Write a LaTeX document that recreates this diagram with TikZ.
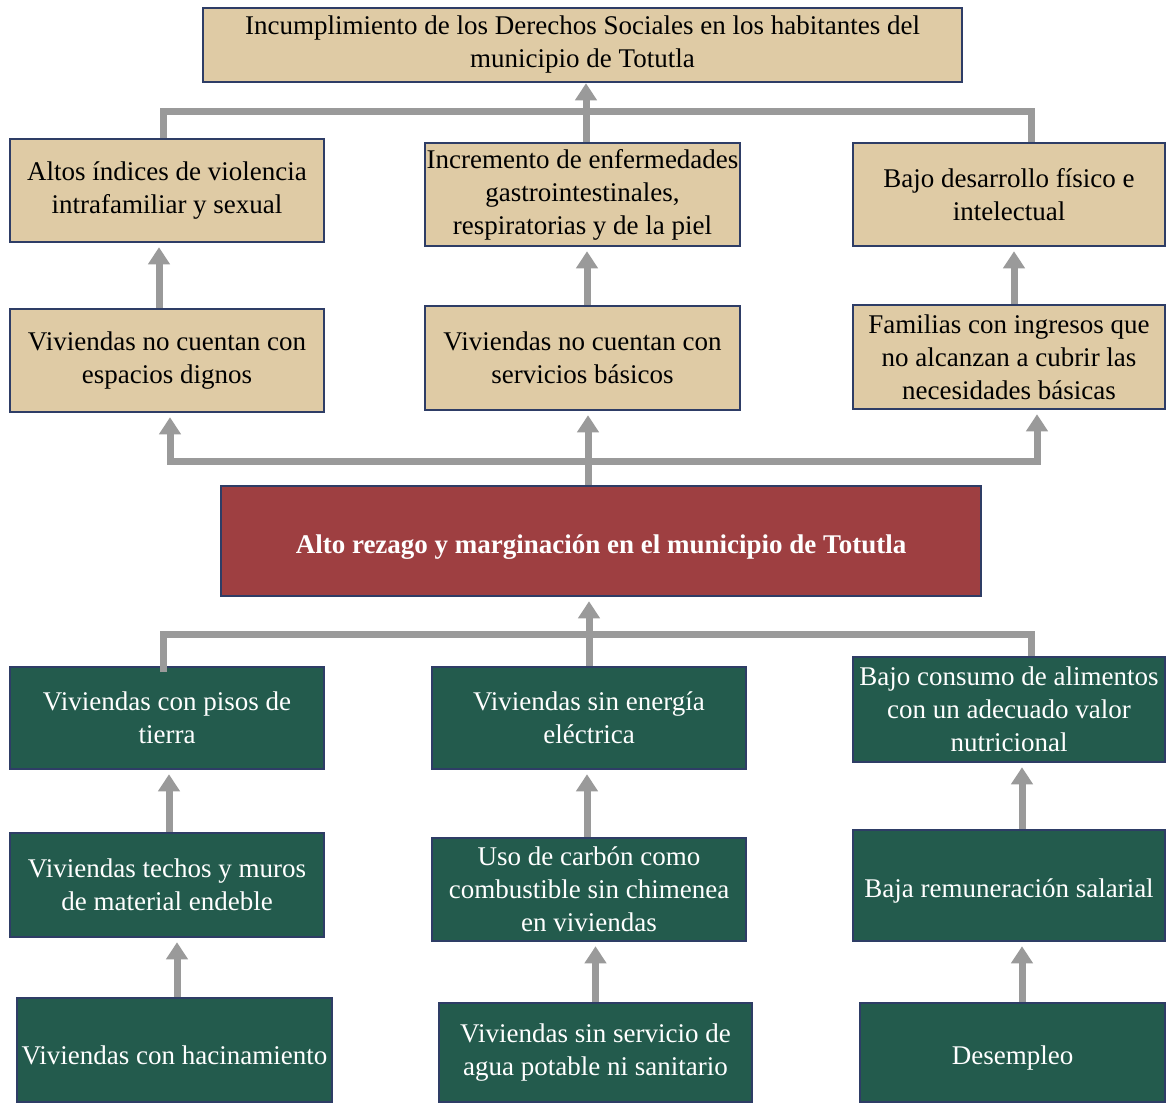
\documentclass[tikz,border=0pt]{standalone}
\usepackage{fontspec}
\setmainfont{Liberation Serif}
\usetikzlibrary{arrows.meta}
\definecolor{beige}{HTML}{DFCBA5}
\definecolor{verde}{HTML}{235B4D}
\definecolor{rojo}{HTML}{9E3F41}
\definecolor{borde}{HTML}{2E3D66}
\definecolor{gris}{HTML}{9A9A9A}
\tikzset{
  caja/.style={draw=borde, line width=2.5pt, align=center, inner sep=0pt,
    font=\fontsize{27}{33}\selectfont, execute at begin node={\rule{0pt}{30pt}}},
  efecto/.style={caja, fill=beige, text=black},
  causa/.style={caja, fill=verde, text=white},
  rama/.style={draw=gris, line width=7pt},
  flecha/.style={rama, -{Triangle[width=21pt,length=17pt]}, shorten >=4pt},
}
\begin{document}
\begin{tikzpicture}[x=1pt,y=-1pt]
\useasboundingbox (0,0) rectangle (1166,1103);
% efectos
\node[efecto, minimum width=759pt, minimum height=74pt] (top) at (582.5,45)
  {Incumplimiento de los Derechos Sociales en los habitantes del\\ municipio de Totutla};
\node[efecto, minimum width=314pt, minimum height=103pt] (a1) at (167,190.5)
  {Altos índices de violencia\\ intrafamiliar y sexual};
\node[efecto, minimum width=315pt, minimum height=103pt] (a2) at (582.5,194.5)
  {Incremento de enfermedades\\ gastrointestinales,\\ respiratorias y de la piel};
\node[efecto, minimum width=312pt, minimum height=103pt] (a3) at (1009,194.5)
  {Bajo desarrollo físico e\\ intelectual};
\node[efecto, minimum width=314pt, minimum height=103pt] (b1) at (167,360.5)
  {Viviendas no cuentan con\\ espacios dignos};
\node[efecto, minimum width=315pt, minimum height=104pt] (b2) at (582.5,358)
  {Viviendas no cuentan con\\ servicios básicos};
\node[efecto, minimum width=312pt, minimum height=104pt] (b3) at (1009,357)
  {Familias con ingresos que\\ no alcanzan a cubrir las\\ necesidades básicas};
% problema central
\node[caja, fill=rojo, text=white, minimum width=760pt, minimum height=110pt] (central) at (601,541)
  {\textbf{Alto rezago y marginación en el municipio de Totutla}};
% causas
\node[causa, minimum width=314pt, minimum height=102pt] (c1) at (167,718)
  {Viviendas con pisos de\\ tierra};
\node[causa, minimum width=314pt, minimum height=102pt] (c2) at (589,718)
  {Viviendas sin energía\\ eléctrica};
\node[causa, minimum width=312pt, minimum height=105pt] (c3) at (1009,709.5)
  {Bajo consumo de alimentos\\ con un adecuado valor\\ nutricional};
\node[causa, minimum width=314pt, minimum height=104pt] (d1) at (167,885)
  {Viviendas techos y muros\\ de material endeble};
\node[causa, minimum width=314pt, minimum height=103pt] (d2) at (589,889.5)
  {Uso de carbón como\\ combustible sin chimenea\\ en viviendas};
\node[causa, minimum width=312pt, minimum height=111pt] (d3) at (1009,885.5)
  {Baja remuneración salarial};
\node[causa, minimum width=315pt, minimum height=104pt] (e1) at (174.5,1050)
  {Viviendas con hacinamiento};
\node[causa, minimum width=313pt, minimum height=99pt] (e2) at (595.5,1052.5)
  {Viviendas sin servicio de\\ agua potable ni sanitario};
\node[causa, minimum width=305pt, minimum height=99pt] (e3) at (1012.5,1052.5)
  {Desempleo};
% ramas superiores
\coordinate (t) at (586,111);
\draw[rama] ([xshift=-4pt]a1.north) |- (t) -| ([xshift=22pt]a3.north);
\draw[flecha, shorten >=0pt] ([xshift=3.5pt]a2.north) -- ([xshift=3.5pt]a2.north |- top.south);
\draw[flecha] ([xshift=-8pt]b1.north) -- ([xshift=-8pt]b1.north |- a1.south);
\draw[flecha] ([xshift=4.5pt]b2.north) -- ([xshift=4.5pt]b2.north |- a2.south);
\draw[flecha] ([xshift=5pt]b3.north) -- ([xshift=5pt]b3.north |- a3.south);
\coordinate (m) at (588,461);
\draw[rama, {Triangle[width=21pt,length=17pt]}-{Triangle[width=21pt,length=17pt]}, shorten <=4pt, shorten >=4pt]
  ([xshift=3pt]b1.south) |- (m) -| ([xshift=28pt]b3.south);
\draw[flecha] ([xshift=-13pt]central.north) -- ([xshift=-13pt]central.north |- b2.south);
% ramas inferiores
\coordinate (b) at (589,634);
\draw[rama] ([xshift=-4pt,yshift=-6pt]c1.north) |- (b) -| ([xshift=22pt]c3.north);
\draw[flecha] (c2.north) -- (c2.north |- central.south);
\draw[flecha] ([xshift=2pt]d1.north) -- ([xshift=2pt]d1.north |- c1.south);
\draw[flecha] ([xshift=-2pt]d2.north) -- ([xshift=-2pt]d2.north |- c2.south);
\draw[flecha] ([xshift=13pt]d3.north) -- ([xshift=13pt]d3.north |- c3.south);
\draw[flecha] ([xshift=2.5pt]e1.north) -- ([xshift=2.5pt]e1.north |- d1.south);
\draw[flecha] (e2.north) -- (e2.north |- d2.south);
\draw[flecha] ([xshift=9.5pt]e3.north) -- ([xshift=9.5pt]e3.north |- d3.south);
\end{tikzpicture}
\end{document}
